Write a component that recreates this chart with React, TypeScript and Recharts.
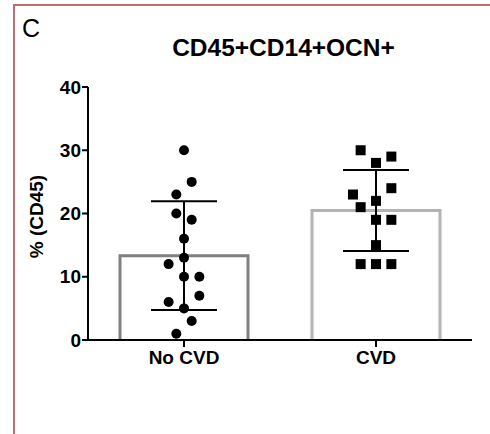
import React from 'react'
import { ComposedChart, Bar, Scatter, XAxis, YAxis, ErrorBar } from 'recharts'

// ── data ─────────────────────────────────────────────────────────
const GROUPS = ['No CVD', 'CVD']
const MEANS = [13.33, 20.46]
const SDS = [8.6, 6.4]
const Y_TICKS = [0, 10, 20, 30, 40]

const NO_CVD_VALUES = [30, 25, 23, 20, 19, 16, 13, 12, 10, 10, 7, 6, 5, 3, 1]
const NO_CVD_JITTER = [0, 0.04, -0.04, -0.04, 0.04, 0, 0, -0.08, 0, 0.08, 0.08, -0.08, 0, 0.04, -0.04]

const CVD_VALUES = [30, 29, 28, 24, 23, 22, 21, 19, 19, 15, 12, 12, 12]
const CVD_JITTER = [-0.08, 0.08, 0, 0.08, -0.12, 0, -0.08, 0, 0.08, 0, -0.08, 0, 0.08]

// ── styling ──────────────────────────────────────────────────────
const FONT = "'Liberation Sans', Arial, sans-serif"
const BAR_COLORS = ['#808080', '#b3b3b3']
const FRAME = '#c46a72'

const barData = GROUPS.map((group, i) => ({ group, mean: MEANS[i], sd: SDS[i] }))
const noCvdPoints = NO_CVD_VALUES.map((v, i) => ({ x: 0.5 + NO_CVD_JITTER[i], y: v }))
const cvdPoints = CVD_VALUES.map((v, i) => ({ x: 1.5 + CVD_JITTER[i], y: v }))

// open-bottom bar outline, like the Prism style
function OpenBar(props: any) {
  const { x, y, width, height, index } = props
  const d = `M${x},${y + height} L${x},${y} L${x + width},${y} L${x + width},${y + height}`
  return <path d={d} fill="none" stroke={BAR_COLORS[index]} strokeWidth={3} />
}

function Dot(props: any) {
  const { cx, cy } = props
  return <circle cx={cx} cy={cy} r={5} fill="#000" />
}

function Square(props: any) {
  const { cx, cy } = props
  return <rect x={cx - 5} y={cy - 5} width={10} height={10} fill="#000" />
}

const tickStyle = { fontFamily: FONT, fontSize: 19, fontWeight: 700, fill: '#000' }

export default function App() {
  return (
    <div style={{ position: 'absolute', left: 0, top: 0, width: 490, height: 434, background: '#fff' }}>
      <ComposedChart
        width={490}
        height={434}
        data={barData}
        margin={{ top: 87, right: 18, bottom: 0, left: 28 }}
      >
        <XAxis
          xAxisId="cat"
          dataKey="group"
          height={94}
          tick={tickStyle}
          tickSize={7}
          tickMargin={4}
          axisLine={{ stroke: '#000', strokeWidth: 2 }}
          tickLine={{ stroke: '#000', strokeWidth: 2 }}
          interval={0}
        />
        <XAxis xAxisId="num" type="number" dataKey="x" domain={[0, 2]} hide />
        <YAxis
          width={60}
          domain={[0, 40]}
          ticks={Y_TICKS}
          interval={0}
          tick={tickStyle}
          tickSize={6}
          tickMargin={1}
          axisLine={{ stroke: '#000', strokeWidth: 2 }}
          tickLine={{ stroke: '#000', strokeWidth: 2 }}
        />
        <Bar
          xAxisId="cat"
          dataKey="mean"
          barSize={128}
          shape={<OpenBar />}
          isAnimationActive={false}
        >
          <ErrorBar dataKey="sd" width={33} stroke="#000" strokeWidth={2} direction="y" />
        </Bar>
        <Scatter
          xAxisId="num"
          data={noCvdPoints}
          dataKey="y"
          shape={<Dot />}
          isAnimationActive={false}
        />
        <Scatter
          xAxisId="num"
          data={cvdPoints}
          dataKey="y"
          shape={<Square />}
          isAnimationActive={false}
        />
      </ComposedChart>

      <svg
        width={490}
        height={434}
        style={{ position: 'absolute', left: 0, top: 0, pointerEvents: 'none' }}
      >
        <line x1={14} y1={5} x2={490} y2={5} stroke={FRAME} strokeWidth={2} />
        <line x1={14} y1={4} x2={14} y2={434} stroke={FRAME} strokeWidth={2} />
        <text x={22} y={37} fontFamily={FONT} fontSize={25} fill="#000">C</text>
        <text
          x={283.5}
          y={56}
          textAnchor="middle"
          fontFamily={FONT}
          fontSize={24.5}
          fontWeight={700}
          fill="#000"
        >
          CD45+CD14+OCN+
        </text>
        <text
          transform="translate(43,216.5) rotate(-90)"
          textAnchor="middle"
          fontFamily={FONT}
          fontSize={19}
          fontWeight={700}
          fill="#000"
        >
          % (CD45)
        </text>
      </svg>
    </div>
  )
}
